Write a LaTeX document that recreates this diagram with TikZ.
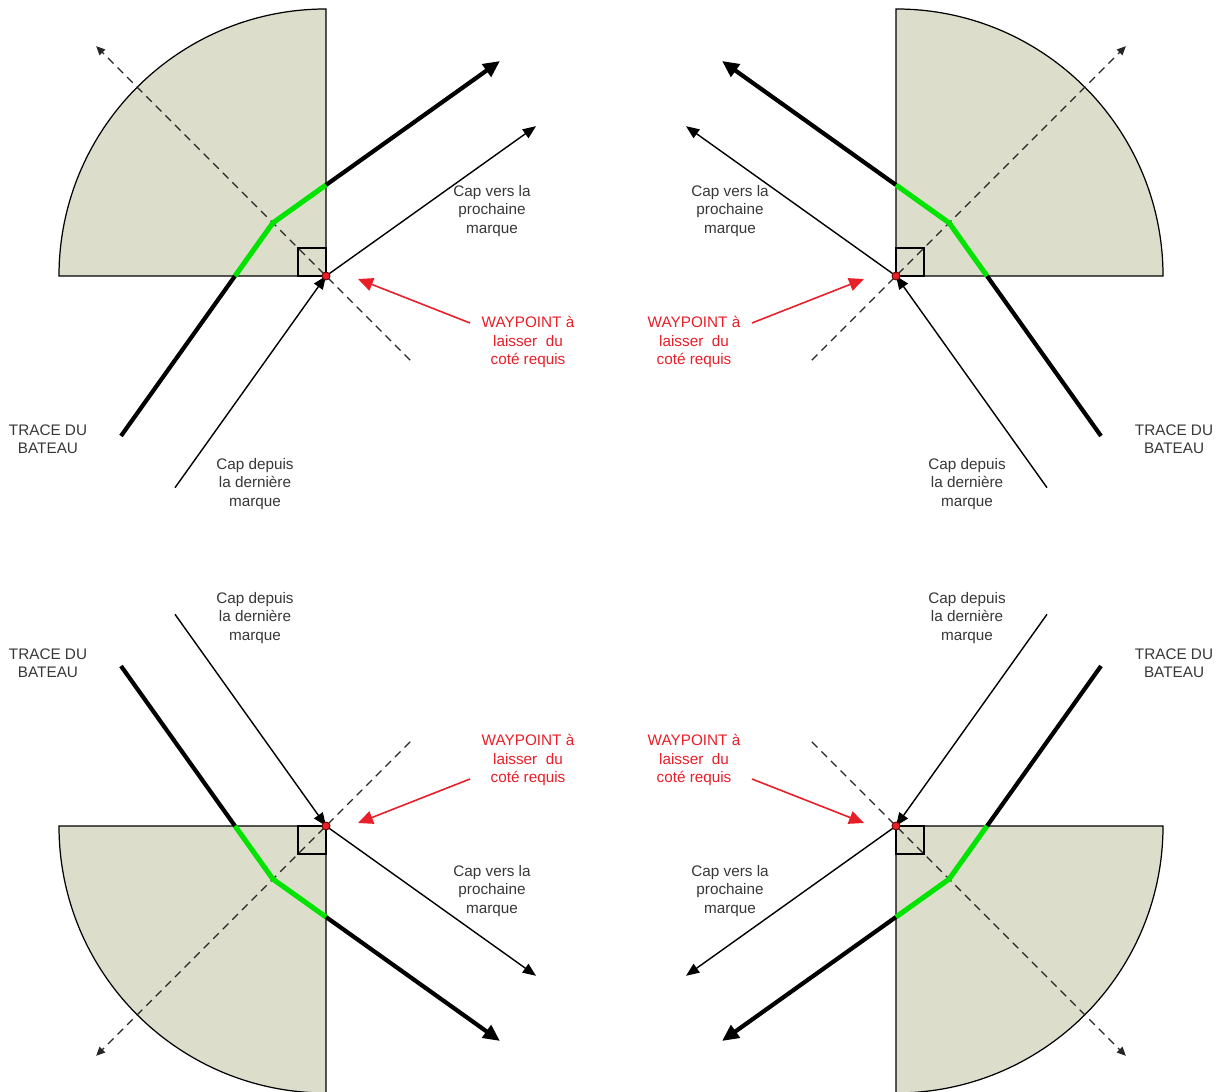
\documentclass[tikz,border=0pt]{standalone}
\usepackage{fontspec}
\setmainfont{Liberation Sans}
\usetikzlibrary{arrows.meta,calc}
\definecolor{zonefill}{RGB}{220,221,203}
\definecolor{tracegreen}{RGB}{0,228,0}
\definecolor{notegray}{RGB}{55,55,55}
\definecolor{wpred}{RGB}{232,30,40}
\tikzset{
  zone/.style={fill=zonefill, draw=black, line width=0.7pt},
  bisector/.style={draw=black!85, line width=0.65pt, dash pattern=on 4.5pt off 3.2pt,
    -{Triangle[length=5pt,width=4.5pt]}},
  course/.style={line width=0.8pt, -{Triangle[length=7.5pt,width=6pt]}},
  trace/.style={line width=2.4pt},
  traceend/.style={line width=2.4pt, -{Triangle[length=9.5pt,width=8.5pt]}},
  inside/.style={tracegreen, line width=2.9pt, line join=round},
  notetext/.style={text=notegray, align=center, font=\fontsize{8.7}{10.3}\selectfont},
  wptext/.style={notetext, text=wpred},
  pointer/.style={wpred, line width=0.9pt, -{Triangle[length=8.5pt,width=7.5pt]}},
}
\begin{document}
\begin{tikzpicture}[x=0.02cm, y=0.02cm]
  \useasboundingbox (0,0) rectangle (1222,1091);
  % one quarter per waypoint, mirrored
  \foreach \sx/\sy/\q in {1/1/nw, -1/1/ne, 1/-1/sw, -1/-1/se}{
    \begin{scope}[shift={(611,540)}, xscale=\sx, yscale=\sy, shift={(-285,275)}]
      % Points
      \coordinate (W-\q) at (0,0);
      \coordinate (B-\q) at (135:75.1);
      \coordinate (Tin-\q) at (-91,0);
      \coordinate (Tout-\q) at (0,91);
      \coordinate (S-\q) at (-205,-160);
      \coordinate (E-\q) at (174,215);
      \coordinate (Cin-\q) at (234.5:260);
      \coordinate (Cout-\q) at (35.5:258);
      \coordinate (D1-\q) at (-45:119);
      \coordinate (D2-\q) at (135:325);
      \coordinate (P1-\q) at (144,-47);
      \coordinate (P2-\q) at (32,-3);
      % Zone
      \draw[zone] (W-\q) -- (-267,0) arc[start angle=180, end angle=90, radius=267] -- cycle;
      \draw[line width=0.7pt] (W-\q) rectangle (-28,28);
      % Bisector
      \draw[bisector] (D1-\q) -- (D2-\q);
      % Courses
      \draw[course] (Cin-\q) -- (W-\q);
      \draw[course] (W-\q) -- (Cout-\q);
      % Boat track
      \draw[trace] (S-\q) -- (Tin-\q);
      \draw[traceend] (Tout-\q) -- (E-\q);
      \draw[inside] (Tin-\q) -- (B-\q) -- (Tout-\q);
      % Waypoint
      \filldraw[fill=wpred, draw=black!60!red, line width=0.5pt] (W-\q) circle (4);
      \draw[pointer] (P1-\q) -- (P2-\q);
      % Labels
      \node[notetext] (capout-\q) at (166,65) {Cap vers la\\prochaine\\marque};
      \node[notetext] (capin-\q) at (-71,-208) {Cap depuis\\la dernière\\marque};
      \node[notetext] (track-\q) at (-278,-163) {TRACE DU\\BATEAU};
      \node[wptext] (wp-\q) at (202,-66) {WAYPOINT à\\laisser\ \ du\\coté requis};
    \end{scope}
  }
\end{tikzpicture}
\end{document}
